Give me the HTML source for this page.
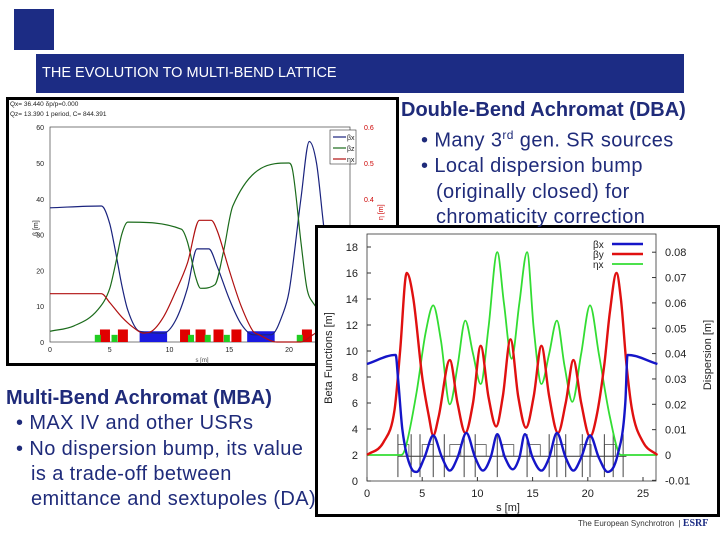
<!DOCTYPE html>
<html><head><meta charset="utf-8"><style>
body{margin:0;width:720px;height:540px;background:#fff;position:relative;overflow:hidden;font-family:"Liberation Sans",sans-serif}
.abs{position:absolute}
.txt{color:#1f2b7a;font-size:20px;line-height:25.3px;white-space:nowrap;letter-spacing:0.4px}
.h{font-weight:bold;letter-spacing:0}
</style></head><body>
<div class="abs" style="left:14px;top:9px;width:40px;height:41px;background:#1c2c84"></div>
<div class="abs" style="left:36px;top:54px;width:648px;height:39px;background:#1c2c84"></div>
<div class="abs" style="left:42px;top:65px;color:#fff;font-size:14.5px">THE EVOLUTION TO MULTI-BEND LATTICE</div>

<svg class="abs" style="left:0;top:0" width="720" height="540">
<g id="left"></g>
<g id="right"></g>
</svg>

<div class="abs txt" style="left:401px;top:98px">
<div class="h">Double-Bend Achromat (DBA)</div>
<div style="padding-left:20px">• Many 3<sup style="font-size:12px">rd</sup> gen. SR sources</div>
<div style="padding-left:20px">• Local dispersion bump</div>
<div style="padding-left:35px">(originally closed) for</div>
<div style="padding-left:35px">chromaticity correction</div>
</div>
<div class="abs txt" style="left:6px;top:386px">
<div class="h">Multi-Bend Achromat (MBA)</div>
<div style="padding-left:10px">• MAX IV and other USRs</div>
<div style="padding-left:10px">• No dispersion bump, its value</div>
<div style="padding-left:25px">is a trade-off between</div>
<div style="padding-left:25px">emittance and sextupoles (DA)</div>
</div>
<div class="abs" style="left:578px;top:518px;font-size:8px;color:#333">The European Synchrotron &nbsp;| <b style="font-family:'Liberation Serif',serif;color:#1c2c84;font-size:10px">ESRF</b></div>

<script>
// ---- left (DBA) data ----
const L_bx_s=[0,4.3,5,5.5,6,6.5,7.5,9.5,10.5,11.5,12.3,13.3,14,15,16,17,18.5,19.5,20,21,21.7,22.3,23,24,25];
const L_bx_v=[37.5,38,33,25,16,9,3,2.5,6,15,26,26,21,12,5,2,2,8,14,40,56,50,30,15,8];
const L_bz_s=[0,2,4,5,5.5,6,6.5,11,11.5,12.2,12.6,13.8,14.5,15.3,20,20.3,21,21.5,22,23,25];
const L_bz_v=[3,4.5,9,15,22,30,33.5,31.5,28,18,15,16,25,38,50,48,28,15,11,8,6];
const L_eta_s=[0,4.3,5,6,7,7.8,8.5,9.5,10.5,11.5,12.5,13.5,14,15,16,17,17.5,19,21,22,23,25];
const L_eta_v=[0.135,0.135,0.11,0.07,0.04,0.025,0.03,0.07,0.14,0.22,0.34,0.34,0.31,0.2,0.1,0.03,0.02,0,0,0.02,0.04,0.03];
const L_yticks=[0,10,20,30,40,50,60];
const L_rticks=[0.4,0.5,0.6];
const L_xticks=[0,5,10,15,20];
// ---- right (MBA) data ----
const R_bx_s=[0,2.6,2.8,3.2,4,4.5,5.2,6,6.8,7.5,8.2,9,9.8,10.5,11.2,11.8,12.5,13.2,13.8,14.3,15,15.8,16.5,17.2,18,18.7,19.4,20.2,21,21.8,22.7,23.4,23.6,26.3];
const R_bx_v=[9,9.7,8,4,1,0.7,1.8,3.5,1.8,0.8,1.8,3.7,1.8,0.8,1.8,3.6,1.8,0.9,1.8,3.6,1.8,0.8,1.8,3.7,1.8,0.8,1.8,3.5,1.8,0.7,2,6,9.7,9];
const R_by_s=[0,1.5,2.5,3,3.6,4.2,5,5.6,6,6.5,7.5,8.2,8.9,9.6,10.3,11,11.7,12.3,13,13.7,14.4,15.1,15.8,16.5,17.3,18,18.7,19.4,20.2,20.8,21.5,22,22.6,23,23.5,24,25,26.3];
const R_by_v=[2,3,5.5,10,16,14,8,5,3.5,5,9.3,6,3.7,6,10.4,6.5,4.2,6.5,10.9,6.5,4.1,6.5,10.4,6.5,3.7,6,9.3,6,3.4,5,9,13,16,14,9,5.5,3,2];
const R_eta_s=[0,3.1,3.5,4.5,5.3,6,6.7,7.5,8.2,8.9,9.6,10.3,11,11.8,12.4,13.1,13.8,14.5,15.1,15.8,16.5,17.2,17.9,18.6,19.4,20.2,21,22,23,26.3];
const R_eta_v=[0,0,0.003,0.025,0.048,0.059,0.045,0.02,0.035,0.053,0.04,0.028,0.05,0.08,0.06,0.038,0.06,0.08,0.05,0.028,0.04,0.053,0.035,0.021,0.04,0.059,0.04,0.015,0,0];
const R_yticks=[0,2,4,6,8,10,12,14,16,18];
const R_rticks=[-0.01,0,0.01,0.02,0.03,0.04,0.05,0.06,0.07,0.08];
const R_xticks=[0,5,10,15,20,25];

const NS='http://www.w3.org/2000/svg';
function el(p,t,a,txt){const e=document.createElementNS(NS,t);for(const k in a)e.setAttribute(k,a[k]);if(txt!==undefined)e.textContent=txt;p.appendChild(e);return e;}
// monotone cubic interpolation (no overshoot)
function smooth(pts){const n=pts.length;const d=[],m=[];
 for(let i=0;i<n-1;i++)d.push((pts[i+1][1]-pts[i][1])/(pts[i+1][0]-pts[i][0]));
 m[0]=d[0];m[n-1]=d[n-2];
 for(let i=1;i<n-1;i++){m[i]=(d[i-1]*d[i]<=0)?0:(d[i-1]+d[i])/2;}
 for(let i=0;i<n-1;i++){if(d[i]===0){m[i]=0;m[i+1]=0;continue;}const a=m[i]/d[i],b=m[i+1]/d[i],s=a*a+b*b;if(s>9){const t=3/Math.sqrt(s);m[i]=t*a*d[i];m[i+1]=t*b*d[i];}}
 let path='M'+pts[0][0].toFixed(1)+','+pts[0][1].toFixed(1);
 for(let i=0;i<n-1;i++){const h=(pts[i+1][0]-pts[i][0])/3;
 path+='C'+(pts[i][0]+h).toFixed(1)+','+(pts[i][1]+m[i]*h).toFixed(1)+' '+(pts[i+1][0]-h).toFixed(1)+','+(pts[i+1][1]-m[i+1]*h).toFixed(1)+' '+pts[i+1][0].toFixed(1)+','+pts[i+1][1].toFixed(1);}
 return path;}

// LEFT
const gl=document.getElementById('left');
const lx=s=>50+s*11.95, ly=v=>342-v*3.58, lyr=v=>342-v*358;
el(gl,'rect',{x:7.5,y:98.5,width:390,height:266,fill:'#fff',stroke:'#000','stroke-width':3});
el(gl,'rect',{x:50,y:127,width:300,height:215,fill:'none',stroke:'#444','stroke-width':0.7});
L_yticks.forEach(v=>{const t=el(gl,'text',{x:44,y:ly(v)+3,'font-size':7,'text-anchor':'end',fill:'#222'},v);});
L_rticks.forEach(v=>{const t=el(gl,'text',{x:364,y:lyr(v)+3,'font-size':7,fill:'#c00'},v);});
L_xticks.forEach(v=>{const t=el(gl,'text',{x:lx(v),y:352,'font-size':7,'text-anchor':'middle',fill:'#222'},v);});
el(gl,'text',{x:10,y:106,'font-size':6.5,fill:'#222'},'Qx= 36.440    δp/p=0.000');
el(gl,'text',{x:10,y:116,'font-size':6.5,fill:'#222'},'Qz= 13.390    1 period, C= 844.391');
el(gl,'text',{x:38,y:236,'font-size':7,fill:'#222',transform:'rotate(-90 38 236)'},'β [m]');
el(gl,'text',{x:202,y:362,'font-size':6,fill:'#444','text-anchor':'middle'},'s [m]');
el(gl,'text',{x:383,y:220,'font-size':7,fill:'#c00',transform:'rotate(-90 383 220)'},'η [m]');
[[7.5,9.8],[16.5,18.8]].forEach(m=>{const r=el(gl,'rect',{x:lx(m[0]),y:ly(3),width:lx(m[1])-lx(m[0]),height:ly(0)-ly(3),fill:'#1a1ae0'});});
[4.6,6.1,11.3,12.6,14.1,15.6,21.5,22.6].forEach(s=>{const r=el(gl,'rect',{x:lx(s)-5,y:ly(3.5),width:10,height:ly(0)-ly(3.5),fill:'#e00000'});});
[4,5.4,11.8,13.2,14.8,20.9].forEach(s=>{const r=el(gl,'rect',{x:lx(s)-3,y:ly(2),width:6,height:ly(0)-ly(2),fill:'#22cc22'});});
let p;
p=el(gl,'path',{d:smooth(L_bx_s.map((s,i)=>[lx(s),ly(L_bx_v[i])])),fill:'none',stroke:'#1a237e','stroke-width':1.2});
p=el(gl,'path',{d:smooth(L_bz_s.map((s,i)=>[lx(s),ly(L_bz_v[i])])),fill:'none',stroke:'#1b6b1b','stroke-width':1.2});
p=el(gl,'path',{d:smooth(L_eta_s.map((s,i)=>[lx(s),lyr(L_eta_v[i])])),fill:'none',stroke:'#b01010','stroke-width':1.2});
el(gl,'rect',{x:330,y:130,width:26,height:34,fill:'#fff',stroke:'#333','stroke-width':0.6});
[['#1a237e','βx'],['#1b6b1b','βz'],['#b01010','ηx']].forEach((c,i)=>{el(gl,'line',{x1:333,x2:346,y1:137+i*11,y2:137+i*11,stroke:c[0],'stroke-width':1.2});el(gl,'text',{x:347,y:140+i*11,'font-size':7,fill:'#222'},c[1]);});

// RIGHT
const gr=document.getElementById('right');
const rx=s=>367+s*11.04, ry=v=>481-v*13, ryr=d=>455-d*2535;
el(gr,'rect',{x:316.5,y:226.5,width:402,height:289,fill:'#fff',stroke:'#000','stroke-width':3});
el(gr,'rect',{x:367,y:234,width:289,height:247,fill:'none',stroke:'#333','stroke-width':0.8});
R_yticks.forEach(v=>{el(gr,'line',{x1:367,x2:371,y1:ry(v),y2:ry(v),stroke:'#333'});const t=el(gr,'text',{x:358,y:ry(v)+4,'font-size':11,'text-anchor':'end',fill:'#222'},v);});
R_rticks.forEach(v=>{el(gr,'line',{x1:652,x2:656,y1:ryr(v),y2:ryr(v),stroke:'#333'});const t=el(gr,'text',{x:665,y:ryr(v)+4,'font-size':11,fill:'#222'},v);});
R_xticks.forEach(v=>{el(gr,'line',{x1:rx(v),x2:rx(v),y1:481,y2:477,stroke:'#333'});const t=el(gr,'text',{x:rx(v),y:497,'font-size':11,'text-anchor':'middle',fill:'#222'},v);});
el(gr,'text',{x:332,y:358,'font-size':11,fill:'#222','text-anchor':'middle',transform:'rotate(-90 332 358)'},'Beta Functions [m]');
el(gr,'text',{x:711,y:355,'font-size':11,fill:'#222','text-anchor':'middle',transform:'rotate(-90 711 355)'},'Dispersion [m]');
el(gr,'text',{x:508,y:511,'font-size':11,fill:'#222','text-anchor':'middle'},'s [m]');
el(gr,'line',{x1:rx(2.8),x2:rx(23.5),y1:ry(1.9),y2:ry(1.9),stroke:'#333','stroke-width':1});
[3.3,5.5,8,10.3,12.8,15.2,17.5,19.8,22].forEach(s=>{const r=el(gr,'rect',{x:rx(s-0.5),y:ry(2.8),width:11,height:ry(1.9)-ry(2.8),fill:'none',stroke:'#555','stroke-width':0.8});});
[2.8,4,4.8,6,7,8.8,9.8,11.8,14.5,16.5,17.2,18,19.5,20.2,21.5,22.3,23.2].forEach(s=>{el(gr,'line',{x1:rx(s),x2:rx(s),y1:ry(0.3),y2:ry(3.6),stroke:'#444','stroke-width':1});});
p=el(gr,'path',{d:smooth(R_eta_s.map((s,i)=>[rx(s),ryr(R_eta_v[i])])),fill:'none',stroke:'#33dd33','stroke-width':1.8});
p=el(gr,'path',{d:smooth(R_by_s.map((s,i)=>[rx(s),ry(R_by_v[i])])),fill:'none',stroke:'#e01010','stroke-width':2.4});
p=el(gr,'path',{d:smooth(R_bx_s.map((s,i)=>[rx(s),ry(R_bx_v[i])])),fill:'none',stroke:'#1515c8','stroke-width':2.4});
[['#1515c8','βx',2.4],['#e01010','βy',2.4],['#33dd33','ηx',1.8]].forEach((c,i)=>{el(gr,'text',{x:593,y:248+i*10,'font-size':10,fill:'#222'},c[1]);el(gr,'line',{x1:612,x2:643,y1:244+i*10,y2:244+i*10,stroke:c[0],'stroke-width':c[2]});});
</script>
</body></html>
